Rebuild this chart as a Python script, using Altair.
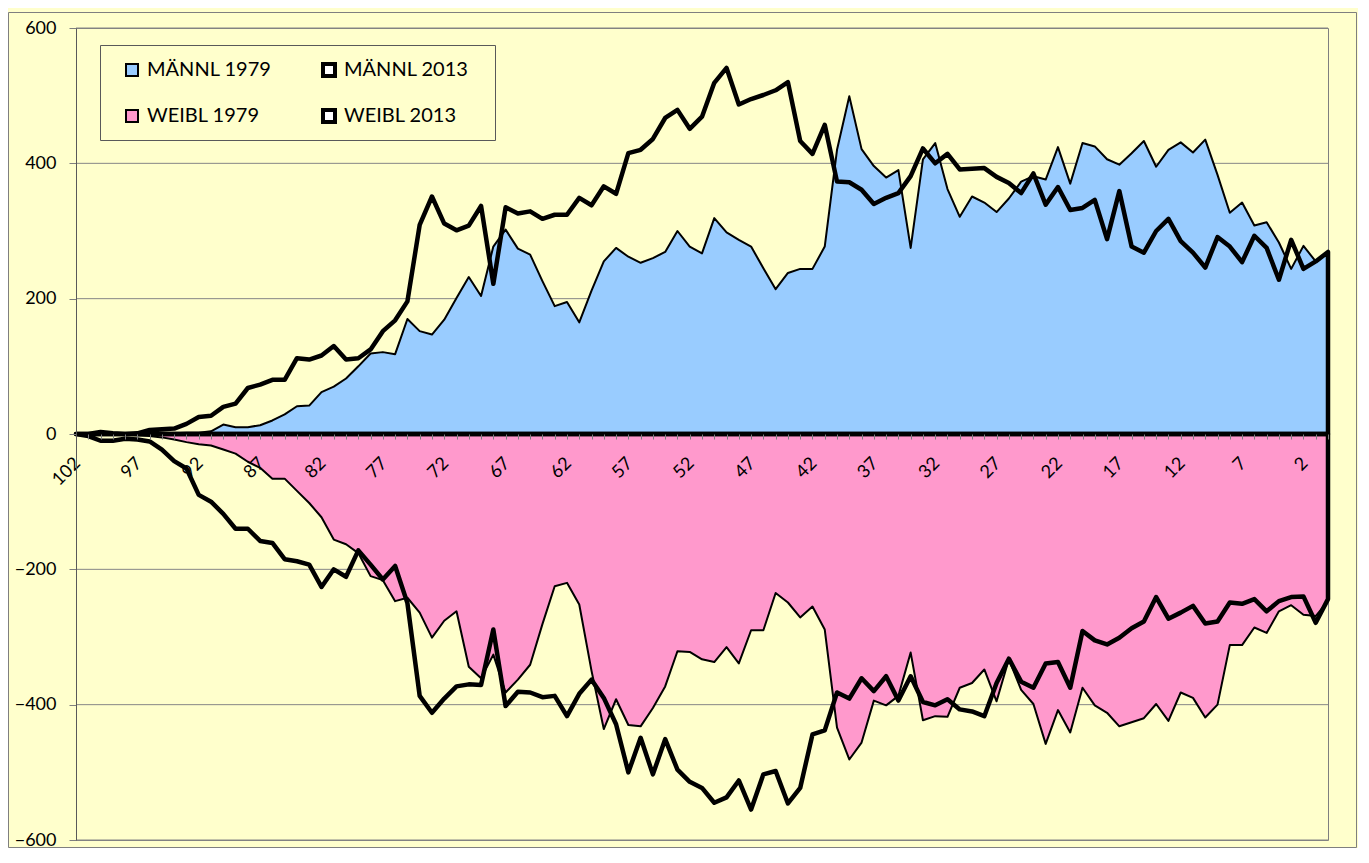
import altair as alt
import pandas as pd

# ages 102 -> 0
ages = list(range(102, -1, -1))

maennl_1979 = [
    0, 0, 0, 0, 0, 0, 0, 1, 1, 2,
    2, 4, 14, 10, 10, 13, 20, 29, 41, 42,
    62, 70, 82, 100, 119, 121, 118, 170, 152, 147,
    169, 201, 232, 204, 277, 302, 274, 265, 226, 189,
    195, 165, 212, 255, 275, 262, 253, 260, 269, 300,
    277, 267, 319, 298, 287, 277, 245, 214, 238, 244,
    244, 277, 420, 499, 421, 396, 379, 390, 275, 406,
    430, 362, 321, 351, 342, 328, 348, 373, 381, 376,
    424, 370, 430, 425, 406, 398, 415, 433, 395, 420,
    431, 416, 435, 383, 327, 342, 308, 313, 283, 244,
    278, 255, 268,
]

maennl_2013 = [
    0, 0, 3, 1, 0, 1, 6, 7, 8, 15,
    25, 27, 40, 45, 68, 73, 80, 80, 112, 110,
    116, 130, 110, 112, 125, 152, 168, 196, 309, 351,
    311, 301, 308, 337, 222, 335, 326, 329, 318, 324,
    324, 349, 338, 366, 355, 415, 420, 436, 467, 479,
    451, 469, 519, 541, 487, 495, 501, 508, 520, 433,
    414, 457, 373, 372, 361, 340, 349, 356, 381, 422,
    400, 414, 391, 392, 393, 380, 371, 356, 385, 339,
    365, 331, 334, 346, 288, 359, 277, 268, 300, 318,
    285, 268, 246, 291, 277, 254, 293, 275, 228, 287,
    244, 255, 269,
]

weibl_1979 = [
    0, 0, 0, 0, -1, -2, -3, -5, -8, -12,
    -15, -17, -23, -29, -41, -50, -66, -66, -84, -102,
    -123, -156, -163, -176, -210, -216, -247, -242, -264, -301,
    -276, -262, -344, -361, -326, -382, -363, -341, -281, -225,
    -220, -252, -350, -436, -392, -430, -432, -405, -373, -321,
    -322, -333, -337, -315, -339, -290, -290, -235, -249, -271,
    -255, -289, -434, -481, -456, -394, -401, -387, -323, -423,
    -417, -418, -375, -368, -348, -395, -333, -378, -399, -458,
    -408, -441, -375, -401, -412, -432, -426, -420, -399, -424,
    -382, -390, -419, -400, -312, -312, -286, -294, -262, -253,
    -267, -269, -247,
]

weibl_2013 = [
    0, -3, -10, -10, -7, -8, -11, -23, -40, -51,
    -90, -100, -118, -140, -140, -158, -161, -185, -188, -193,
    -226, -200, -211, -172, -193, -215, -195, -250, -387, -412,
    -391, -373, -370, -371, -289, -402, -381, -382, -389, -387,
    -417, -384, -363, -390, -429, -500, -449, -503, -451, -496,
    -514, -523, -545, -537, -512, -555, -503, -498, -546, -523,
    -444, -438, -382, -391, -361, -380, -358, -394, -358, -396,
    -401, -392, -407, -410, -417, -368, -332, -366, -375, -339,
    -337, -375, -291, -305, -311, -301, -287, -277, -241, -273,
    -264, -254, -280, -277, -249, -251, -244, -262, -247, -241,
    -240, -279, -244,
]

series_1979 = ["MÄNNL 1979", "WEIBL 1979"]
series_2013 = ["MÄNNL 2013", "WEIBL 2013"]
fills_1979 = ["#99CCFF", "#FF99CC"]
y_ticks = [-600, -400, -200, 0, 200, 400, 600]
grid_values = [-600, -400, -200, 200, 400, 600]
x_ticks = list(range(0, 103))


def long_frame(names, arrays):
    rows = []
    for name, vals in zip(names, arrays):
        for a, v in zip(ages, vals):
            rows.append({"age": a, "value": v, "series": name})
    return pd.DataFrame(rows)


df_1979 = long_frame(series_1979, [maennl_1979, weibl_1979])
df_2013 = long_frame(series_2013, [maennl_2013, weibl_2013])

W, H = 1252, 812

xscale = alt.Scale(domain=[102, 0], nice=False, zero=False)
yscale = alt.Scale(domain=[-600, 600], nice=False)

x_axis = alt.Axis(
    values=x_ticks,
    labelExpr="(102 - datum.value) % 5 == 0 ? datum.label : ''",
    labelAngle=315, labelOverlap=False, labelFlush=False,
    offset=-H / 2, domain=False, grid=False,
    tickSize=5, tickColor="#7F7F7F", tickWidth=1,
    labelFontSize=18, labelColor="black", labelPadding=15, labelOffset=-5,
    title=None, zindex=1,
)
y_axis = alt.Axis(
    values=y_ticks, grid=False,
    domainColor="#595959", domainWidth=1,
    tickColor="#7F7F7F", tickSize=7,
    labelFontSize=18, labelColor="black", labelPadding=13,
    title=None, zindex=1,
)


def X(field="age:Q"):
    return alt.X(field, scale=xscale, axis=x_axis)


def Y(field="value:Q"):
    return alt.Y(field, scale=yscale, axis=y_axis, stack=False)


legend_1979 = alt.Legend(
    title=None, orient="none", legendX=46, legendY=32, direction="vertical",
    symbolType="square", symbolSize=144, symbolStrokeColor="black",
    symbolStrokeWidth=2, symbolOpacity=1,
    labelFontSize=20, labelFont="Lato", labelColor="black", labelOffset=5,
    rowPadding=26, padding=0,
)
legend_2013 = alt.Legend(
    title=None, orient="none", legendX=243, legendY=32, direction="vertical",
    symbolType="square", symbolSize=144, symbolStrokeColor="black",
    symbolStrokeWidth=4, symbolFillColor="white", symbolOpacity=1,
    labelFontSize=20, labelFont="Lato", labelColor="black", labelOffset=5,
    rowPadding=18, padding=0,
)

frame = alt.Chart(pd.DataFrame({"a": [0]})).mark_rect(
    fillOpacity=0, stroke="#7F7F7F", strokeWidth=1
).encode(
    x=alt.value(-67.5), x2=alt.value(W + 28.5), y=alt.value(-15.5), y2=alt.value(H + 7.5)
)

legend_box = alt.Chart(pd.DataFrame({"a": [0]})).mark_rect(
    fill="#FFFFCC", stroke="#595959", strokeWidth=1
).encode(
    x=alt.value(24.5), x2=alt.value(419.5), y=alt.value(17.5), y2=alt.value(112.5)
)

grid = alt.Chart(pd.DataFrame({"g": grid_values})).mark_rule(
    color="#868686", strokeWidth=1
).encode(y=Y("g:Q"))

areas_1979 = alt.Chart(df_1979).mark_area(
    strokeWidth=2, strokeJoin="round", fillOpacity=1
).encode(
    x=X(), y=Y(),
    fill=alt.Fill("series:N", scale=alt.Scale(domain=series_1979, range=fills_1979), legend=legend_1979),
    stroke=alt.Stroke("series:N", scale=alt.Scale(domain=series_1979, range=["black", "black"]), legend=legend_1979),
)

areas_2013 = alt.Chart(df_2013).mark_area(
    fill="white", fillOpacity=0, strokeWidth=4.5, strokeJoin="round"
).encode(
    x=X(), y=Y(),
    stroke=alt.Stroke("series:N", scale=alt.Scale(domain=series_2013, range=["black", "black"]), legend=legend_2013),
)

chart = alt.layer(
    frame, grid, areas_1979, areas_2013, legend_box,
).resolve_scale(
    fill="independent", stroke="independent"
).properties(
    width=W, height=H,
    padding={"left": 68, "top": 20, "right": 30, "bottom": 8},
    autosize=alt.AutoSizeParams(type="none"),
).configure(
    background="#FFFFCC", font="Lato"
).configure_view(
    stroke="#7F7F7F", strokeWidth=1
)

chart.save("out.html", embed_options={"renderer": "svg", "actions": False})
